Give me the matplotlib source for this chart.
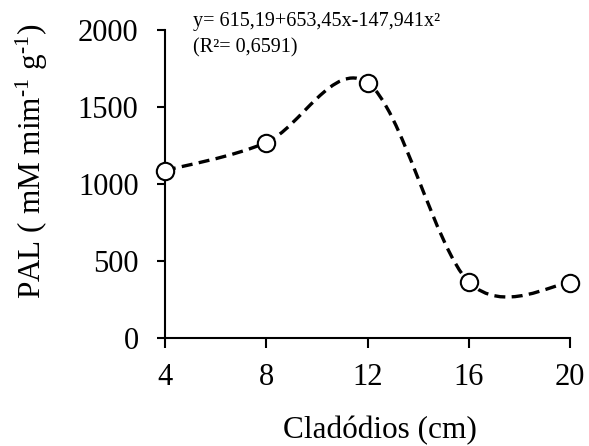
import matplotlib
matplotlib.use("Agg")
import matplotlib.pyplot as plt
from matplotlib.path import Path
from matplotlib.patches import PathPatch

plt.rcParams['font.family'] = ['Liberation Serif', 'DejaVu Serif']
plt.rcParams['mathtext.fontset'] = 'custom'
plt.rcParams['mathtext.rm'] = 'Liberation Serif'
plt.rcParams['mathtext.it'] = 'Liberation Serif:italic'

# Cladode length (cm) and PAL activity
cladodes = [4, 8, 12, 16, 20]
pal = [1087, 1269, 1657, 364, 358]
x_ticks = [4, 8, 12, 16, 20]
y_ticks = [0, 500, 1000, 1500, 2000]

fig = plt.figure(figsize=(5.89, 4.46), dpi=100)
ax = fig.add_axes([0.280, 0.242, 0.688, 0.691])


def smooth_path(xs, ys):
    """Cubic Bezier path through the points (Catmull-Rom style control points)."""
    pts = list(zip(xs, ys))
    n = len(pts)
    verts = [pts[0]]
    codes = [Path.MOVETO]
    for i in range(n - 1):
        p0 = pts[i - 1] if i > 0 else pts[i]
        p1 = pts[i]
        p2 = pts[i + 1]
        p3 = pts[i + 2] if i + 2 < n else pts[i + 1]
        c1 = (p1[0] + (p2[0] - p0[0]) / 6, p1[1] + (p2[1] - p0[1]) / 6)
        c2 = (p2[0] - (p3[0] - p1[0]) / 6, p2[1] - (p3[1] - p1[1]) / 6)
        verts += [c1, c2, p2]
        codes += [Path.CURVE4] * 3
    return Path(verts, codes)


patch = PathPatch(smooth_path(cladodes, pal), facecolor='none', edgecolor='black',
                  linewidth=2.4, linestyle=(0, (3.3, 1.9)), clip_on=False, zorder=2)
ax.add_patch(patch)
ax.plot(cladodes, pal, linestyle='none', marker='o', markersize=12.5,
        markerfacecolor='white', markeredgecolor='black', markeredgewidth=1.5,
        clip_on=False, zorder=3)

ax.set_xlim(4, 20)
ax.set_ylim(0, 2000)
ax.set_xticks(x_ticks)
ax.set_yticks(y_ticks)
for side in ('top', 'right'):
    ax.spines[side].set_visible(False)
for side in ('left', 'bottom'):
    ax.spines[side].set_linewidth(1.5)
ax.tick_params(axis='x', direction='out', length=7, width=1.5, labelsize=22, pad=11)
ax.tick_params(axis='y', direction='out', length=6, width=1.5, labelsize=22, pad=13)

ax.set_xlabel('Cladódios (cm)', fontsize=22.5)
ax.xaxis.label.set_va('baseline')
ax.xaxis.set_label_coords(0.531, -0.325)

ax.set_ylabel(r'PAL ( mM mim$^{\text{-1}}$ g$^{\text{-1}}$)', fontsize=22.5)
ax.yaxis.label.set_va('center')
ax.yaxis.set_label_coords(-0.329, 0.575)

fig.text(0.328, 0.972, 'y= 615,19+653,45x-147,941x²', fontsize=14.5, va='top', ha='left')
fig.text(0.328, 0.914, '(R²= 0,6591)', fontsize=14.5, va='top', ha='left')

fig.savefig('out.png', dpi=100)
